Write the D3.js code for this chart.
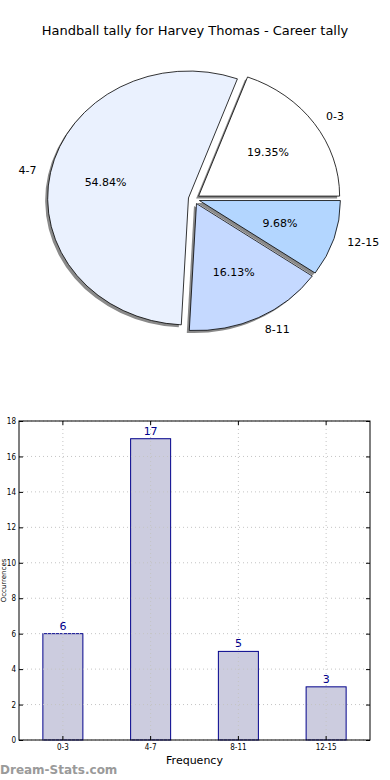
<!DOCTYPE html>
<html>
<head>
<meta charset="utf-8">
<script src="https://cdn.jsdelivr.net/npm/d3@7"></script>
<style>
  body { margin: 0; background: #fff; }
  svg { display: block; font-family: "DejaVu Sans", sans-serif; }
</style>
</head>
<body>
<svg id="chart" width="390" height="780"></svg>
<script>
var categories = ["0-3", "4-7", "8-11", "12-15"]
var counts = [6, 17, 5, 3]
var pieColors = ["#ffffff", "#eaf1fe", "#c5d9ff", "#b3d6ff"]
var yTicks = [0, 2, 4, 6, 8, 10, 12, 14, 16, 18]

var svg = d3.select("#chart")

svg.append("text")
   .attr("x", 195).attr("y", 35)
   .attr("text-anchor", "middle")
   .style("font-size", "13px")
   .text("Handball tally for Harvey Thomas - Career tally")

// ---- pie ----
var pie = {cx: 194, cy: 199, rx: 141, ry: 127, explode: 0.04}
var total = d3.sum(counts)

var arcs = d3.pie().sort(null)
             .startAngle(Math.PI / 2)
             .endAngle(Math.PI / 2 - 2 * Math.PI)(counts)

var arcGen = d3.arc().innerRadius(0).outerRadius(1)

function offset(d, k) {
    var m = (d.startAngle + d.endAngle) / 2
    return [Math.sin(m) * k, -Math.cos(m) * k]
}

var pieG = svg.append("g")

// shadows first
pieG.selectAll("path.shadow")
    .data(arcs)
    .enter()
    .append("path")
    .attr("class", "shadow")
    .attr("d", arcGen)
    .attr("transform", d => {
        var o = offset(d, pie.explode)
        return `translate(${pie.cx + o[0] * pie.rx - 2.5},${pie.cy + o[1] * pie.ry + 2.5}) scale(${pie.rx},${pie.ry})`
    })
    .attr("fill", "#8a8a8a")

pieG.selectAll("path.slice")
    .data(arcs)
    .enter()
    .append("path")
    .attr("class", "slice")
    .attr("d", arcGen)
    .attr("transform", d => {
        var o = offset(d, pie.explode)
        return `translate(${pie.cx + o[0] * pie.rx},${pie.cy + o[1] * pie.ry}) scale(${pie.rx},${pie.ry})`
    })
    .attr("fill", (d, i) => pieColors[i])
    .attr("stroke", "#000")
    .attr("stroke-width", 0.8)
    .attr("vector-effect", "non-scaling-stroke")

// outer labels
pieG.selectAll("text.cat")
    .data(arcs)
    .enter()
    .append("text")
    .attr("class", "cat")
    .attr("x", d => pie.cx + offset(d, pie.explode + 1.1)[0] * pie.rx)
    .attr("y", d => pie.cy + offset(d, pie.explode + 1.1)[1] * pie.ry)
    .attr("dy", "0.35em")
    .attr("text-anchor", d => offset(d, 1)[0] > 0 ? "start" : "end")
    .style("font-size", "11px")
    .text((d, i) => categories[i])

pieG.selectAll("text.pct")
    .data(arcs)
    .enter()
    .append("text")
    .attr("class", "pct")
    .attr("x", d => pie.cx + offset(d, pie.explode + 0.6)[0] * pie.rx)
    .attr("y", d => pie.cy + offset(d, pie.explode + 0.6)[1] * pie.ry)
    .attr("dy", "0.35em")
    .attr("text-anchor", "middle")
    .style("font-size", "11px")
    .text(d => (d.value / total * 100).toFixed(2) + "%")

// ---- bar chart ----
var dims = {left: 19, right: 370, top: 421, bottom: 740}

var xScale = d3.scaleBand()
               .domain(categories)
               .range([dims.left, dims.right])
               .paddingInner(0.544)
               .paddingOuter(0.272)

var yScale = d3.scaleLinear()
               .domain([0, 18])
               .range([dims.bottom, dims.top])

var grid = svg.append("g")
grid.selectAll("line.h")
    .data(yTicks)
    .enter()
    .append("line")
    .attr("x1", dims.left).attr("x2", dims.right)
    .attr("y1", d => yScale(d)).attr("y2", d => yScale(d))
    .attr("stroke", "#c4c4c4")
    .attr("stroke-dasharray", "1,3")
grid.selectAll("line.v")
    .data(categories)
    .enter()
    .append("line")
    .attr("x1", d => xScale(d) + xScale.bandwidth() / 2)
    .attr("x2", d => xScale(d) + xScale.bandwidth() / 2)
    .attr("y1", dims.top).attr("y2", dims.bottom)
    .attr("stroke", "#c4c4c4")
    .attr("stroke-dasharray", "1,3")

svg.append("g")
   .selectAll("rect")
   .data(counts)
   .enter()
   .append("rect")
   .attr("x", (d, i) => xScale(categories[i]))
   .attr("y", d => yScale(d))
   .attr("width", xScale.bandwidth())
   .attr("height", d => dims.bottom - yScale(d))
   .attr("fill", "#ccccdf")
   .attr("stroke", "#00008b")
   .attr("stroke-width", 1)

// grid shows through bars in the reference
grid.raise()

svg.append("g")
   .selectAll("text")
   .data(counts)
   .enter()
   .append("text")
   .attr("x", (d, i) => xScale(categories[i]) + xScale.bandwidth() / 2)
   .attr("y", d => yScale(d) - 4)
   .attr("text-anchor", "middle")
   .attr("fill", "#00008b")
   .style("font-size", "11px")
   .text(d => d)

var yAxisGen = d3.axisLeft(yScale).tickValues(yTicks).tickSizeInner(-4).tickSizeOuter(0).tickPadding(3)
var yAxis = svg.append("g")
               .attr("transform", `translate(${dims.left},0)`)
               .call(yAxisGen)
var yAxisR = svg.append("g")
                .attr("transform", `translate(${dims.right},0)`)
                .call(d3.axisRight(yScale).tickValues(yTicks).tickSizeInner(-4).tickSizeOuter(0).tickFormat(""))
var xAxis = svg.append("g")
               .attr("transform", `translate(0,${dims.bottom})`)
               .call(d3.axisBottom(xScale).tickSizeInner(-4).tickSizeOuter(0).tickPadding(4))
var xAxisT = svg.append("g")
                .attr("transform", `translate(0,${dims.top})`)
                .call(d3.axisTop(xScale).tickSizeInner(-4).tickSizeOuter(0).tickFormat(""))

svg.selectAll(".domain").remove()
svg.selectAll(".tick line").attr("stroke", "#000")
svg.selectAll(".tick text")
   .style("font-family", "'DejaVu Sans Condensed', 'DejaVu Sans', sans-serif")
   .style("font-size", "8px")
   .attr("fill", "#000")

svg.append("rect")
   .attr("x", dims.left).attr("y", dims.top)
   .attr("width", dims.right - dims.left)
   .attr("height", dims.bottom - dims.top)
   .attr("fill", "none")
   .attr("stroke", "#000")
   .attr("stroke-width", 1)

svg.append("text")
   .attr("x", (dims.left + dims.right) / 2)
   .attr("y", 764)
   .attr("text-anchor", "middle")
   .style("font-size", "11px")
   .text("Frequency")

svg.append("text")
   .attr("transform", `translate(5.5,${(dims.top + dims.bottom) / 2}) rotate(-90)`)
   .attr("text-anchor", "middle")
   .style("font-size", "7px")
   .text("Occurrences")

svg.append("text")
   .attr("x", 0).attr("y", 774)
   .attr("fill", "#9a9a9a")
   .style("font-size", "12px")
   .style("font-weight", "bold")
   .text("Dream-Stats.com")
</script>
</body>
</html>
